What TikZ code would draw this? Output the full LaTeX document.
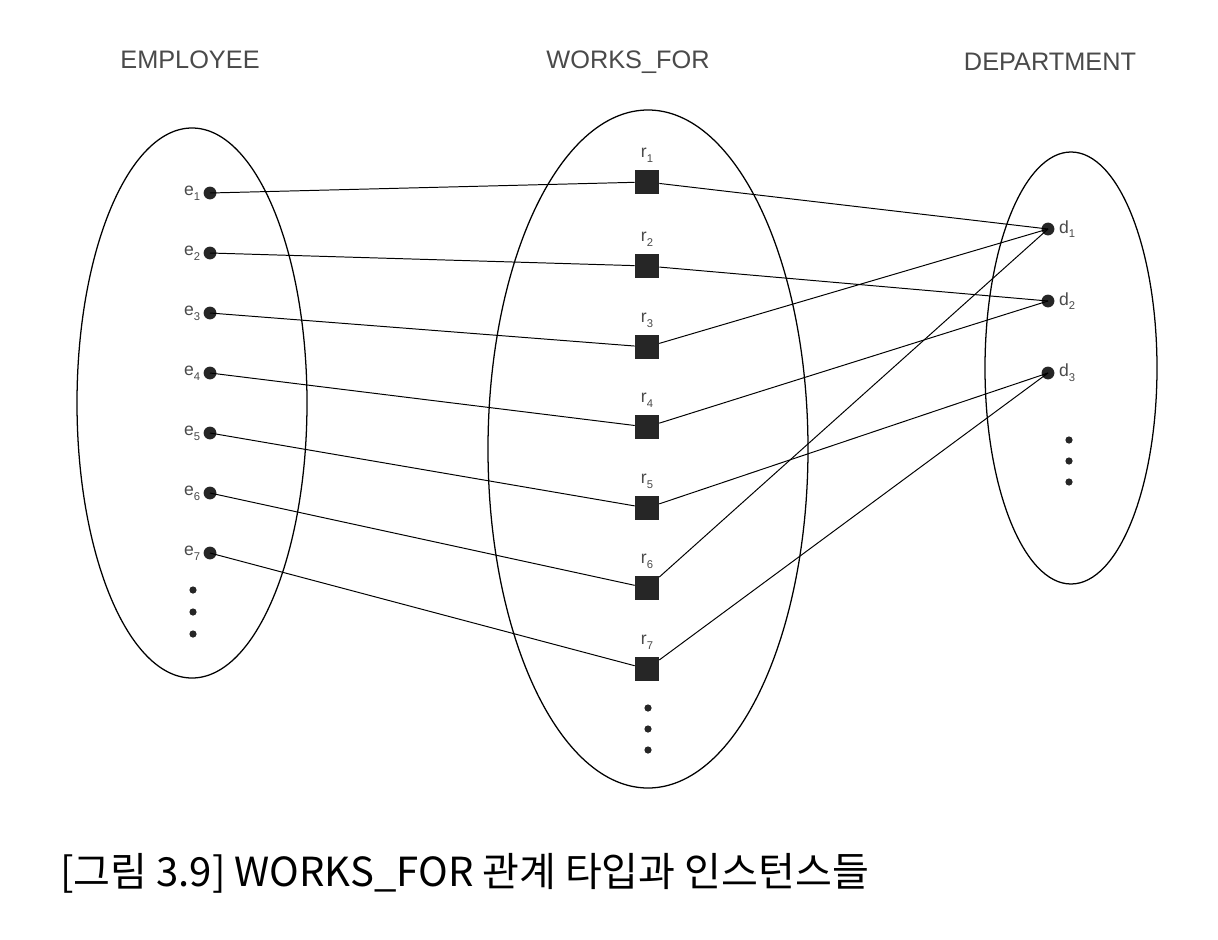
\documentclass[tikz,border=0pt]{standalone}
\usepackage{fontspec}
\setmainfont{Liberation Sans}
\newfontfamily\krfont{Noto Sans CJK KR}
\usetikzlibrary{positioning}
\definecolor{labelgray}{HTML}{4A4A4A}

\begin{document}
\begin{tikzpicture}[x=0.025cm,y=-0.025cm,
  ent/.style={circle,fill=black!85,inner sep=0pt,minimum size=0.32cm},
  rel/.style={rectangle,fill=black!85,inner sep=0pt,minimum size=0.6cm},
  more/.style={circle,fill=black!85,inner sep=0pt,minimum size=0.18cm},
  lbl/.style={text=labelgray,inner sep=1pt,font=\fontsize{12.5}{12.5}\selectfont},
  head/.style={text=labelgray,font=\fontsize{18}{18}\selectfont},
  link/.style={line width=0.7pt},
  set/.style={line width=0.9pt}]
  \fill[white](0,0)rectangle(1218,940);
  \useasboundingbox(0,0)rectangle(1218,940);
  % titles
  \node[head] (emp) at (190,60) {EMPLOYEE};
  \node[head] (wf) at (628,62) {WORKS\_FOR};
  \node[head] (dept) at (1050,62) {DEPARTMENT};
  % the three sets
  \draw[set] (192,403) ellipse [x radius=115, y radius=275];
  \draw[set] (648,449) ellipse [x radius=160, y radius=339];
  \draw[set] (1071,368) ellipse [x radius=86, y radius=216];
  % employees
  \foreach \i in {1,...,7}{
    \node[ent] (e\i) at (210,{133+\i*60}) {};
    \node[lbl,left=1pt of e\i] {e\raisebox{-0.5ex}{\fontsize{8}{8}\selectfont\i}};}
  \foreach \y [count=\k] in {590,612,634}
    \node[more] (edot\k) at (193,\y) {};
  % relationship instances
  \foreach \y [count=\i] in {182,266,347,427,508,588,669}{
    \node[rel] (r\i) at (647,\y) {};
    \node[lbl,above=4pt of r\i] {r\raisebox{-0.5ex}{\fontsize{8}{8}\selectfont\i}};}
  \foreach \y [count=\k] in {708,729,750}
    \node[more] (rdot\k) at (648,\y) {};
  % departments
  \foreach \y [count=\i] in {229,301,373}{
    \node[ent] (d\i) at (1048,\y) {};
    \node[lbl,right=2pt of d\i] {d\raisebox{-0.5ex}{\fontsize{8}{8}\selectfont\i}};}
  \foreach \y [count=\k] in {440,461,482}
    \node[more] (ddot\k) at (1069,\y) {};
  % connectors
  \foreach \i in {1,...,7}
    \draw[link] (e\i.center) -- (r\i);
  \foreach \r/\d in {1/1,2/2,3/1,4/2,5/3,6/1,7/3}
    \draw[link] (r\r) -- (d\d.center);
  % caption
  \node[anchor=west,inner sep=0pt,font=\krfont\fontsize{28.5}{28.5}\selectfont] (cap) at (60,873)
    {[그림 3.9] WORKS\_FOR 관계 타입과 인스턴스들};
\end{tikzpicture}
\end{document}
